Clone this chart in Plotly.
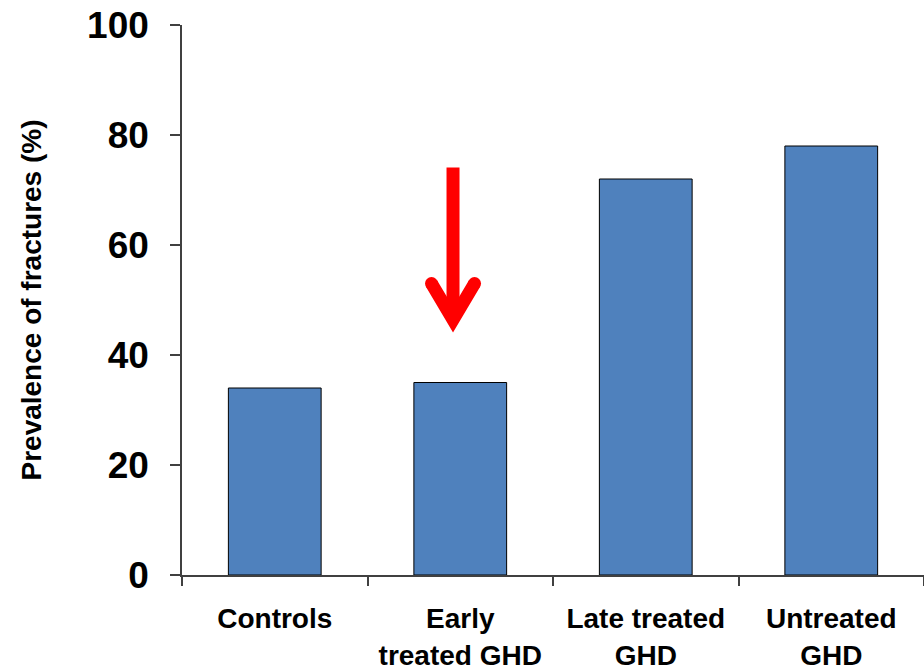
import plotly.graph_objects as go

# Prevalence of fractures by group
categories = ["Controls", "Early<br>treated GHD", "Late treated<br>GHD", "Untreated<br>GHD"]
prevalence = [34, 35, 72, 78]
y_ticks = [0, 20, 40, 60, 80, 100]

# Red downward arrow pointing at the early-treated group (overlay axis units)
arrow_x = 0.961
arrow_top = 74.1
arrow_vertex = 46.4
arrow_wing_y = 53.0
arrow_wing_dx = 0.116

FONT = "Liberation Sans, Arial, sans-serif"
AXIS_COLOR = "#404040"

fig = go.Figure()

fig.add_trace(go.Bar(
    x=categories,
    y=prevalence,
    width=0.5,
    marker=dict(color="#4F81BD", line=dict(color="#000000", width=1)),
    showlegend=False,
    hoverinfo="x+y",
))

# Arrow shaft
fig.add_trace(go.Scatter(
    x=[arrow_x, arrow_x],
    y=[arrow_top, arrow_vertex + 1.5],
    mode="lines",
    line=dict(color="#FF0000", width=13),
    xaxis="x2", yaxis="y",
    showlegend=False, hoverinfo="skip",
))
# Arrow head (chevron)
fig.add_trace(go.Scatter(
    x=[arrow_x - arrow_wing_dx, arrow_x, arrow_x + arrow_wing_dx],
    y=[arrow_wing_y, arrow_vertex, arrow_wing_y],
    mode="lines",
    line=dict(color="#FF0000", width=13),
    xaxis="x2", yaxis="y",
    showlegend=False, hoverinfo="skip",
))
# Rounded wing ends
fig.add_trace(go.Scatter(
    x=[arrow_x - arrow_wing_dx, arrow_x + arrow_wing_dx],
    y=[arrow_wing_y, arrow_wing_y],
    mode="markers",
    marker=dict(color="#FF0000", size=13, line=dict(width=0)),
    xaxis="x2", yaxis="y",
    showlegend=False, hoverinfo="skip",
))

fig.update_layout(
    width=924,
    height=671,
    margin=dict(l=182, r=0, t=25, b=94),
    paper_bgcolor="white",
    plot_bgcolor="white",
    font=dict(family=FONT, color="black"),
    bargap=0.5,
    xaxis=dict(
        type="category",
        range=[-0.5, 3.5],
        showline=True, linecolor=AXIS_COLOR, linewidth=1.5,
        ticks="outside", ticklen=9, tickcolor=AXIS_COLOR, tickwidth=1.5,
        tickson="boundaries",
        ticklabelstandoff=18,
        showgrid=False, zeroline=False,
        tickfont=dict(family=FONT, size=28, color="black", weight="bold"),
    ),
    xaxis2=dict(
        overlaying="x", range=[-0.5, 3.5], visible=False,
    ),
    yaxis=dict(
        range=[0, 100],
        tickvals=y_ticks,
        showline=True, linecolor=AXIS_COLOR, linewidth=1.5,
        ticks="outside", ticklen=10, tickcolor=AXIS_COLOR, tickwidth=1.5,
        ticklabelstandoff=14,
        showgrid=False, zeroline=False,
        tickfont=dict(family=FONT, size=37, color="black", weight="bold"),
        title=dict(
            text="Prevalence of fractures (%)",
            font=dict(family=FONT, size=28, color="black", weight="bold"),
            standoff=37,
        ),
    ),
)

fig.write_html("out.html")
